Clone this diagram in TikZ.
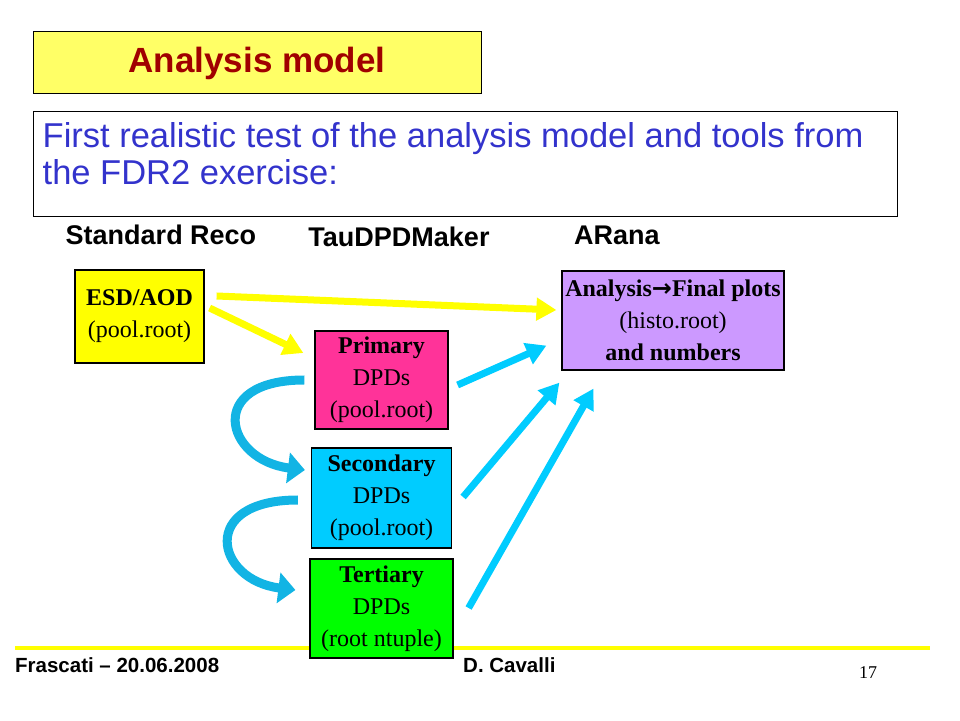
\documentclass[tikz,border=0pt]{standalone}
\usepackage{fontspec}
\setmainfont{Liberation Serif}
\setsansfont{Liberation Sans}
\newfontfamily\arrowfont{DejaVu Sans}
\usetikzlibrary{arrows.meta,positioning,calc}
\definecolor{titlefill}{HTML}{FFFF66}
\definecolor{titletext}{HTML}{A00000}
\definecolor{subtext}{HTML}{3333CC}
\definecolor{esdfill}{HTML}{FFFF00}
\definecolor{anafill}{HTML}{CC99FF}
\definecolor{primfill}{HTML}{FF3399}
\definecolor{secfill}{HTML}{00CCFF}
\definecolor{terfill}{HTML}{00FF00}
\definecolor{arrcyan}{HTML}{00CCFF}
\definecolor{arrcurve}{HTML}{12B4E4}

\begin{document}
\begin{tikzpicture}[x=1pt,y=1pt,on grid,
   box/.style={draw=black, line width=1.2pt, align=center, inner sep=0pt, text=black,
     font=\fontsize{24}{32}\selectfont},
   head/.style={font=\sffamily\bfseries\fontsize{27}{30}\selectfont},
   foot/.style={anchor=west, inner sep=0pt, font=\sffamily\bfseries\fontsize{20.5}{22}\selectfont},
   yarr/.style={draw=esdfill, line width=7pt, -{Triangle[width=22pt,length=20pt]}},
   carr/.style={draw=arrcyan, line width=7pt, -{Triangle[width=22pt,length=20pt]}},
   turn/.style={draw=arrcurve, line width=9pt, -{Triangle[width=30pt,length=17pt]}}]
  \useasboundingbox (0,0) rectangle (960,720);

  % title and text
  \node[draw, line width=1pt, fill=titlefill, minimum width=448, minimum height=62,
        text=titletext, font=\sffamily\bfseries\fontsize{35}{40}\selectfont] (title) at (257,657) {Analysis model};
  \node[draw, line width=1pt, minimum width=864, minimum height=105] (sub) at (465,555.5) {};
  \node[anchor=north west, inner sep=0pt, align=left, text=subtext,
        font=\sffamily\fontsize{34.5}{37}\selectfont] (subtxt) at ($(sub.north west)+(10,-11)$)
        {First realistic test of the analysis model and tools from\\the FDR2 exercise:};

  % column heads
  \node[head] (hreco) at (161,485) {Standard Reco};
  \node[head] (htau) at (399,483) {TauDPDMaker};
  \node[head] (hara) at (617,485) {ARana};

  \draw[draw=esdfill, line width=4pt] (15,72) -- (930,72);

  % boxes
  \node[box, fill=esdfill, minimum width=129, minimum height=93] (esd) at (139.5,403.5)
        {\textbf{ESD/AOD}\\(pool.root)};
  \node[box, fill=anafill, minimum width=222, minimum height=99] (ana) at (673,399.5)
        {\textbf{Analysis{\arrowfont\bfseries →}Final plots}\\(histo.root)\\\textbf{and numbers}};
  \node[box, fill=primfill, minimum width=133, minimum height=98] (prim) at (381.5,340)
        {\textbf{Primary}\\DPDs\\(pool.root)};
  \node[box, fill=secfill, minimum width=140, minimum height=100] (sec) [below=118pt of prim]
        {\textbf{Secondary}\\DPDs\\(pool.root)};
  \node[box, fill=terfill, minimum width=143, minimum height=99] (ter) [below=110.5pt of sec]
        {\textbf{Tertiary}\\DPDs\\(root ntuple)};

  % arrows
  \draw[yarr] ($(esd.east)+(12,20.5)$) -- ($(ana.west)+(-5,10.5)$);
  \draw[yarr] ($(esd.east)+(5,8.5)$) -- ($(prim.west)+(-11,27)$);
  \draw[carr] ($(prim.east)+(9,-5)$) -- ($(ana.south west)+(-15,25)$);
  \draw[carr] ($(sec.east)+(11,1)$) -- ($(ana.south west)+(-2,-12)$);
  \draw[carr] ($(ter.east)+(15,0.5)$) -- ($(ana.south west)+(32,-18)$);
  \draw[turn] ($(prim.west)+(-10,0)$) .. controls +(-100,0) and +(-80,10) .. ($(sec.west)+(-6,28)$);
  \draw[turn] ($(sec.west)+(-13,-2)$) .. controls +(-100,0) and +(-80,10) .. ($(ter.west)+(-14,18.5)$);

  % footer
  \node[foot] (place) at (15,55) {Frascati – 20.06.2008};
  \node[foot] (author) at (463,55) {D. Cavalli};
  \node[font=\fontsize{18}{20}\selectfont] (pageno) at (868,47) {17};
\end{tikzpicture}
\end{document}
